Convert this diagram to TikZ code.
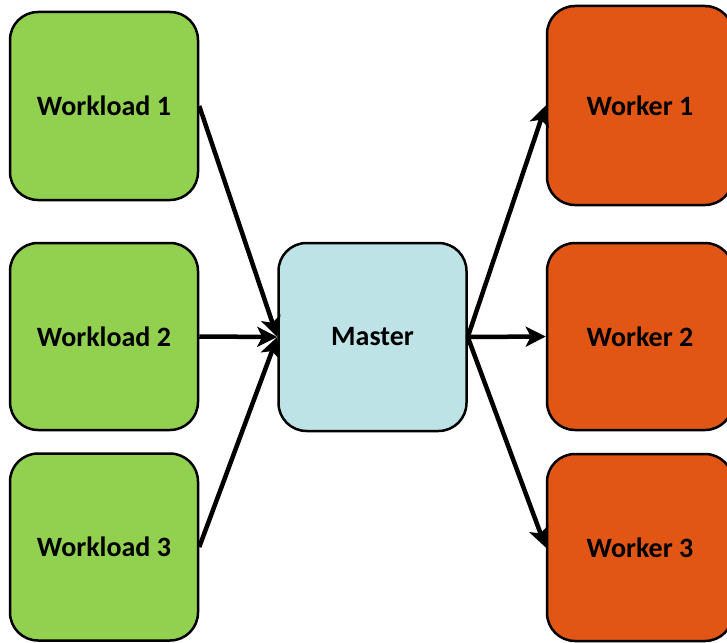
\documentclass[tikz,border=0pt]{standalone}
\usepackage{fontspec}
\setmainfont{Carlito}
\usetikzlibrary{arrows.meta}
\definecolor{loadgreen}{RGB}{146,208,80}
\definecolor{masterblue}{RGB}{189,227,230}
\definecolor{workerorange}{RGB}{225,86,20}
\tikzset{
  x=1pt, y=-1pt,
  box/.style={draw=black, line width=2.5pt, rounded corners=28pt,
    font=\fontsize{28}{32}\selectfont\bfseries, text=black,
    minimum width=188pt, minimum height=188pt, inner sep=0pt},
  loadbox/.style={box, fill=loadgreen},
  masterbox/.style={box, fill=masterblue},
  workerbox/.style={box, fill=workerorange, minimum width=186pt},
  link/.style={line width=4.5pt, -{Stealth[length=20pt,width=20pt,inset=5pt]}}
}
\begin{document}
\begin{tikzpicture}
  \useasboundingbox (0,0) rectangle (727,642);
  \clip (0,0) rectangle (727,642);
  % sources
  \node[loadbox] (w1) at (104,106) {Workload 1};
  \node[loadbox, minimum height=187pt] (w2) at (104,336.5) {Workload 2};
  \node[loadbox, minimum height=187pt] (w3) at (104,547) {Workload 3};
  % dispatcher
  \node[masterbox] (m) at (372.5,337) {Master};
  % consumers
  \node[workerbox, minimum height=199pt] (k1) at (640,105.5) {Worker 1};
  \node[workerbox, minimum height=187pt] (k2) at (640,336.5) {Worker 2};
  \node[workerbox, minimum height=187pt] (k3) at (640,547.5) {Worker 3};
  % connectors
  \draw[link] (w1.east) -- (m.west);
  \draw[link] (w2.east) -- (m.west);
  \draw[link] (w3.east) -- (m.west);
  \draw[link] (m.east) -- (k1.west);
  \draw[link] (m.east) -- (k2.west);
  \draw[link] (m.east) -- (k3.west);
\end{tikzpicture}
\end{document}
